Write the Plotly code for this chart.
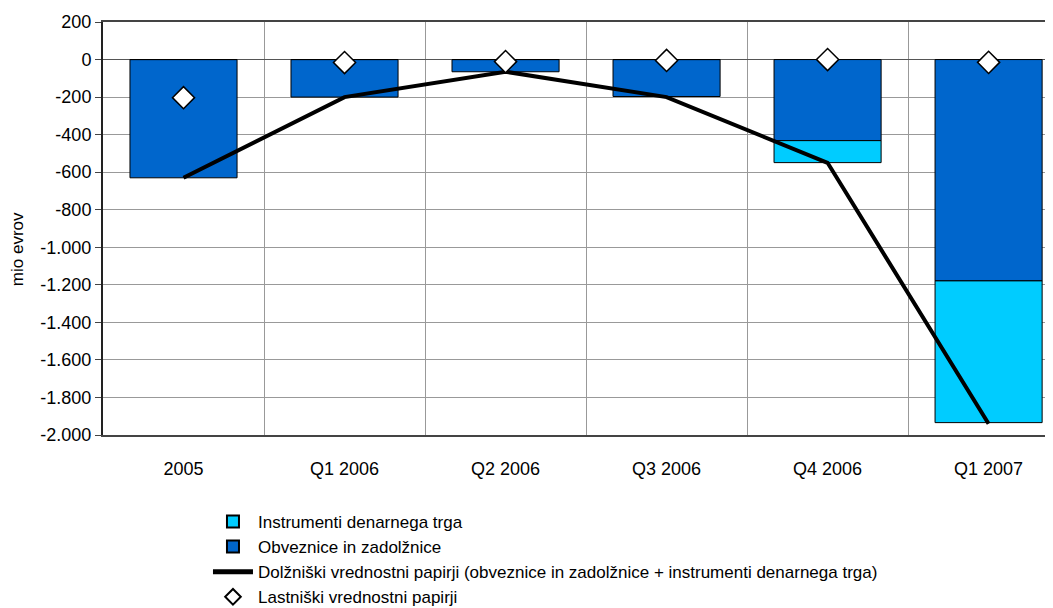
import plotly.graph_objects as go

# Category labels and series values (mio evrov)
CATEGORIES = ["2005", "Q1 2006", "Q2 2006", "Q3 2006", "Q4 2006", "Q1 2007"]
INSTRUMENTI = [0, 0, 0, 0, -117, -755]
OBVEZNICE = [-630, -200, -65, -197, -432, -1179]
DOLZNISKI = [-630, -200, -65, -200, -550, -1940]
LASTNISKI = [-203, -16, -11, -5, 0, -15]

Y_TICKS = [200, 0, -200, -400, -600, -800, -1000, -1200, -1400, -1600, -1800, -2000]
Y_TICK_TEXT = ["200", "0", "-200", "-400", "-600", "-800", "-1.000", "-1.200",
               "-1.400", "-1.600", "-1.800", "-2.000"]

x = list(range(len(CATEGORIES)))
FONT = "Liberation Sans, Arial, sans-serif"

fig = go.Figure()

fig.add_bar(
    x=x, y=OBVEZNICE, name="Obveznice in zadolžnice",
    marker=dict(color="#0066CC", line=dict(color="black", width=1)),
    width=0.665, legendrank=2,
)
fig.add_bar(
    x=x, y=INSTRUMENTI, name="Instrumenti denarnega trga",
    marker=dict(color="#00CCFF", line=dict(color="black", width=1)),
    width=0.665, legendrank=1,
)
fig.add_scatter(
    x=x, y=DOLZNISKI, mode="lines",
    name="Dolžniški vrednostni papirji (obveznice in zadolžnice + instrumenti denarnega trga)",
    line=dict(color="black", width=4), legendrank=3,
)
fig.add_scatter(
    x=x, y=LASTNISKI, mode="markers", name="Lastniški vrednostni papirji",
    marker=dict(symbol="diamond", size=17, color="white",
                line=dict(color="black", width=1.5)),
    legendrank=4,
)

# page body adds an 8px offset, so margins are shifted accordingly
fig.update_layout(
    width=1053, height=608,
    barmode="relative",
    plot_bgcolor="white", paper_bgcolor="white",
    font=dict(family=FONT, size=18, color="black"),
    margin=dict(l=95, r=8, t=14, b=181, autoexpand=False),
    showlegend=True,
    legend=dict(
        x=0.1105, y=-0.167, xanchor="left", yanchor="top",
        font=dict(size=17), tracegroupgap=0, itemwidth=40,
        itemsizing="constant",
        bgcolor="rgba(0,0,0,0)",
    ),
)

fig.add_annotation(
    text="mio evrov", textangle=-90,
    xref="paper", yref="paper", x=-0.0905, y=0.45,
    xanchor="center", yanchor="middle", showarrow=False,
    font=dict(size=17),
)

fig.update_xaxes(
    range=[-0.5, 5.4], automargin=False,
    tickvals=x, ticktext=CATEGORIES,
    showgrid=False, ticks="", ticklabelstandoff=16,
    showline=True, linecolor="#444", linewidth=2, mirror=True,
    minor=dict(tick0=0.5, dtick=1, showgrid=True, gridcolor="#999", gridwidth=1),
    zeroline=False,
)
fig.update_yaxes(
    range=[-2000, 200], automargin=False,
    tickvals=Y_TICKS, ticktext=Y_TICK_TEXT,
    showgrid=True, gridcolor="#999", gridwidth=1,
    ticks="outside", ticklen=6, tickcolor="#444",
    showline=True, linecolor="#222", linewidth=2,
    zeroline=True, zerolinecolor="#555", zerolinewidth=1,
)

fig.write_html("out.html")
